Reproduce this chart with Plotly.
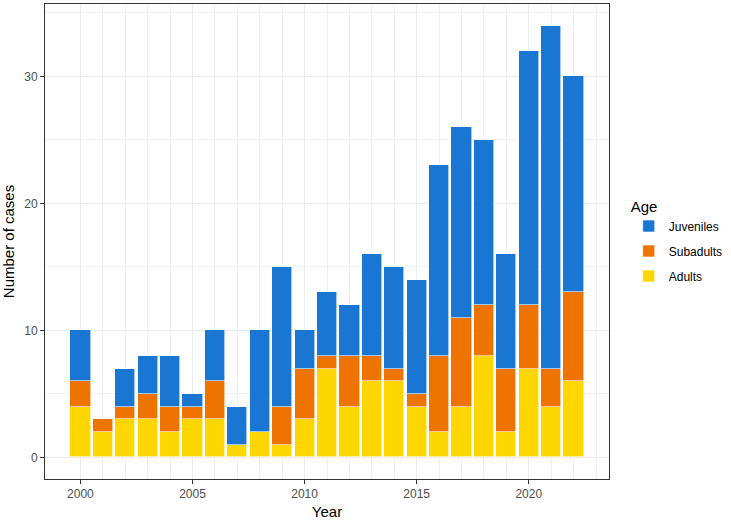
import plotly.graph_objects as go

years = list(range(2000, 2023))
adults =    [4, 2, 3, 3, 2, 3, 3, 1, 2, 1, 3, 7, 4, 6, 6, 4, 2, 4, 8, 2, 7, 4, 6]
subadults = [2, 1, 1, 2, 2, 1, 3, 0, 0, 3, 4, 1, 4, 2, 1, 1, 6, 7, 4, 5, 5, 3, 7]
juveniles = [4, 0, 3, 3, 4, 1, 4, 3, 8, 11, 3, 5, 4, 8, 8, 9, 15, 15, 13, 9, 20, 27, 17]

series = [("Adults", adults, "#FFD700", 3),
          ("Subadults", subadults, "#EF7300", 2),
          ("Juveniles", juveniles, "#1976D2", 1)]

x_ticks = [2000, 2005, 2010, 2015, 2020]
x_minor = list(range(2000, 2024))
y_ticks = [0, 10, 20, 30]
y_minor = [5, 15, 25, 35]

font = "Liberation Sans, Arial, sans-serif"
fig = go.Figure()
for name, vals, col, rank in series:
    fig.add_trace(go.Bar(x=years, y=vals, name=name, width=0.9, legendgroup=name, legendrank=rank,
                         marker=dict(color=col, line=dict(color="white", width=0.6))))

axis_common = dict(showline=True, mirror=True, linecolor="#333333", linewidth=1,
                   ticks="outside", ticklen=4, tickcolor="#333333", tickwidth=1,
                   gridcolor="#ebebeb", gridwidth=1, zeroline=False,
                   tickfont=dict(family=font, size=12, color="#4d4d4d"))

fig.update_layout(
    barmode="stack", width=731, height=521,
    margin=dict(l=45, r=121, t=3, b=39),
    plot_bgcolor="white", paper_bgcolor="white",
    font=dict(family=font),
    xaxis=dict(range=[1998.42, 2023.58], tickvals=x_ticks,
               minor=dict(tickvals=x_minor, showgrid=True, gridcolor="#f0f0f0", gridwidth=0.5, ticks=""),
               title=dict(text="Year", font=dict(family=font, size=15, color="black"), standoff=6),
               **axis_common),
    yaxis=dict(range=[-1.7, 35.7], tickvals=y_ticks,
               minor=dict(tickvals=y_minor, showgrid=True, gridcolor="#f0f0f0", gridwidth=0.5, ticks=""),
               title=dict(text="Number of cases", font=dict(family=font, size=15, color="black"), standoff=5),
               **axis_common),
    legend=dict(x=1.035, y=0.5, xanchor="left", yanchor="middle",
                traceorder="grouped", tracegroupgap=6,
                title=dict(text="Age", font=dict(family=font, size=15, color="black")),
                font=dict(family=font, size=12, color="black")),
    bargap=0,
)

fig.write_html("out.html")
